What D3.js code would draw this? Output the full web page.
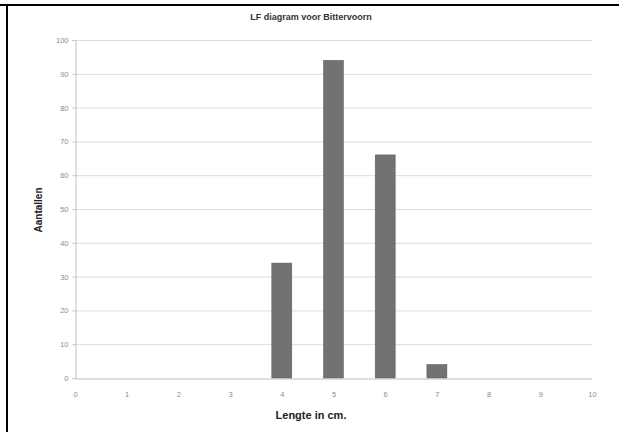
<!DOCTYPE html>
<html>
<head>
<meta charset="utf-8">
<script src="https://cdn.jsdelivr.net/npm/d3@7/dist/d3.min.js"></script>
<style>
  html, body { margin: 0; padding: 0; background: #fff; }
  svg { display: block; }
</style>
</head>
<body>
<svg id="chart" width="619" height="432"></svg>
<script>
// Length-frequency data for Bittervoorn
const lengths = [0, 1, 2, 3, 4, 5, 6, 7, 8, 9, 10];
const counts  = [0, 0, 0, 0, 34, 94, 66, 4, 0, 0, 0];
const yTicks  = [0, 10, 20, 30, 40, 50, 60, 70, 80, 90, 100];
const xTicks  = [0, 1, 2, 3, 4, 5, 6, 7, 8, 9, 10];

const titleText = "LF diagram voor Bittervoorn";
const xTitle = "Lengte in cm.";
const yTitle = "Aantallen";

const svg = d3.select("#chart");
const W = 619, H = 432;
const plot = { left: 75, right: 592, top: 40, bottom: 378 };

const x = d3.scaleLinear().domain([0, 10]).range([plot.left, plot.right]);
const y = d3.scaleLinear().domain([0, 100]).range([plot.bottom, plot.top]);

// frame edges
svg.append("line").attr("x1", 0).attr("x2", W).attr("y1", 5).attr("y2", 5)
  .attr("stroke", "#000").attr("stroke-width", 2);
svg.append("line").attr("x1", 7).attr("x2", 7).attr("y1", 4).attr("y2", H)
  .attr("stroke", "#000").attr("stroke-width", 2);

// horizontal gridlines
svg.append("g").selectAll("line").data(yTicks.filter(d => d > 0)).join("line")
  .attr("x1", plot.left).attr("x2", plot.right)
  .attr("y1", d => y(d) + 0.5).attr("y2", d => y(d) + 0.5)
  .attr("stroke", "#dcdcdc").attr("stroke-width", 1);

// y axis
const yAxis = svg.append("g")
  .attr("transform", `translate(${plot.left + 0.5},0)`)
  .call(d3.axisLeft(y).tickValues(yTicks).tickSize(3).tickPadding(4));
yAxis.select(".domain").attr("stroke", "#c0c0c0");
yAxis.selectAll(".tick line").attr("stroke", "#c0c0c0");
yAxis.selectAll(".tick text")
  .attr("fill", "#8c8c8c").attr("font-size", 7.5).attr("font-family", "Arial, Liberation Sans, sans-serif");

// x axis
const xAxis = svg.append("g")
  .attr("transform", `translate(0,${plot.bottom + 0.5})`)
  .call(d3.axisBottom(x).tickValues(xTicks).tickSize(0).tickPadding(13));
xAxis.select(".domain").attr("stroke", "#c0c0c0");
xAxis.selectAll(".tick text")
  .attr("fill", "#8c8c8c").attr("font-size", 7.5).attr("font-family", "Arial, Liberation Sans, sans-serif");

// bars
const barW = 20;
svg.append("g").selectAll("rect").data(lengths.map((l, i) => ({ l, c: counts[i] })).filter(d => d.c > 0))
  .join("rect")
  .attr("x", d => x(d.l) - barW / 2)
  .attr("width", barW)
  .attr("y", d => y(d.c))
  .attr("height", d => y(0) - y(d.c))
  .attr("fill", "#727272")
  .attr("stroke", "#5a5a5a").attr("stroke-width", 0.5);

// titles
svg.append("text").attr("x", 311).attr("y", 20).attr("text-anchor", "middle")
  .attr("font-family", "Liberation Sans, Arial, sans-serif").attr("font-size", 9).attr("font-weight", "bold")
  .attr("fill", "#333").text(titleText);

svg.append("text").attr("x", 311).attr("y", 419).attr("text-anchor", "middle")
  .attr("font-family", "Liberation Sans, Arial, sans-serif").attr("font-size", 11).attr("font-weight", "bold")
  .attr("fill", "#222").text(xTitle);

svg.append("text").attr("transform", "translate(42,210) rotate(-90)").attr("text-anchor", "middle")
  .attr("font-family", "Liberation Sans, Arial, sans-serif").attr("font-size", 10).attr("font-weight", "bold")
  .attr("fill", "#222").text(yTitle);
</script>
</body>
</html>
